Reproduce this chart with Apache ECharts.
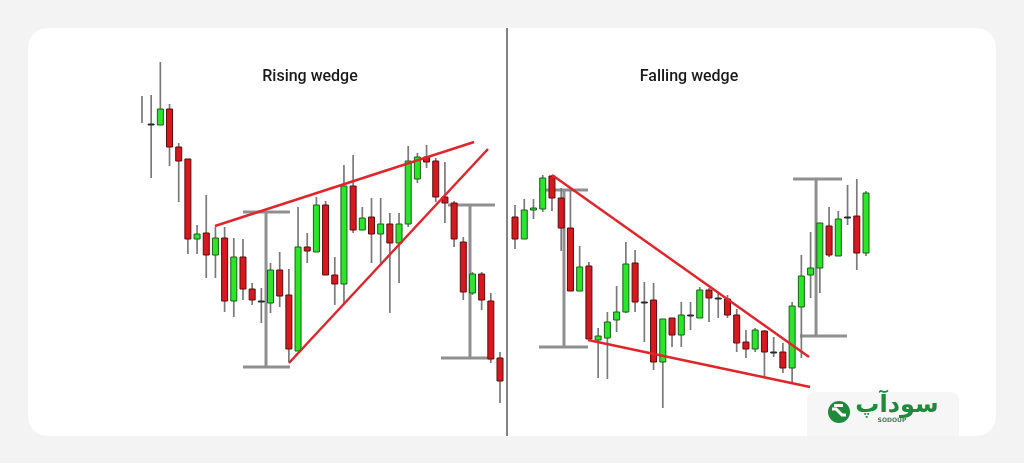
<!DOCTYPE html>
<html>
<head>
<meta charset="utf-8">
<script src="https://cdn.jsdelivr.net/npm/echarts@6/dist/echarts.min.js"></script>
<style>
html,body{margin:0;padding:0;background:#f3f3f3;}
#chart{width:1024px;height:463px;}
</style>
</head>
<body>
<div id="chart"></div>
<script>
// Candles: [open, close, low, high] (price units); null open/close = wick only
var leftCandles = [
  [null,null,312,339],[311,311,257,340],[310,326,310,373],[326,288,269,331],[288,274,233,292],
  [276,196,181,276],[196,201,181,210],[202,180,157,240],[180,197,157,208],[197,134,123,208],
  [134,178,118,197],[178,146,135,196],[146,135,130,152],[134,134,112,147],[132,165,122,172],
  [165,139,128,183],[140,86,73,166],[84,188,84,228],[188,184,172,202],[183,230,183,238],
  [230,160,160,234],[160,151,130,178],[151,249,132,270],[249,205,202,280],[205,217,205,228],
  [218,201,172,237],[201,211,172,237],[211,192,122,222],[192,211,152,222],[211,274,208,289],
  [256,278,252,282],[278,273,267,290],[274,238,233,277],[238,232,212,273],[232,196,188,234],
  [193,143,135,198],[142,161,140,163],[161,135,125,163],[134,76,72,142],[77,54,32,83]
];
var rightCandles = [
  [218,196,186,230],[196,225,196,236],[225,227,216,236],[226,257,223,260],[259,237,224,260],
  [237,207,184,247],[207,144,144,245],[144,168,144,189],[169,96,96,173],[95,99,57,107],
  [97,113,56,123],[115,123,103,149],[123,171,122,193],[172,133,123,185],[133,133,93,153],
  [135,73,65,152],[73,116,27,116],[117,100,88,117],[100,120,88,133],[120,120,105,133],
  [117,145,117,148],[145,137,113,147],[137,137,117,142],[136,120,117,140],[120,92,83,126],
  [93,86,77,105],[86,105,83,107],[104,83,57,105],[83,83,78,98],[83,67,62,92],
  [67,129,52,133],[128,159,77,180],[160,167,137,203],[167,212,142,212],[209,180,178,228],
  [179,216,179,224],[218,218,210,250],[219,182,165,256],[182,242,179,244]
];
// Trendlines and measuring lines: [[index, price], [index, price]]
var leftUpperLine = [[7.95,209],[36.17,293]];
var leftLowerLine = [[16.01,72],[37.69,286]];
var leftMeasureA = [[[13.51,223],[13.51,68]],[[11.0,223],[16.12,223]],[[11.0,68],[16.12,68]]];
var leftMeasureB = [[[35.73,230],[35.73,77]],[[33.33,230],[38.45,230]],[[32.57,77],[37.91,77]]];
var rightUpperLine = [[4.01,260],[31.83,78]];
var rightLowerLine = [[7.90,95],[31.94,48]];
var rightMeasureA = [[[5.30,245],[5.30,88]],[[2.60,245],[7.90,245]],[[2.60,88],[7.90,88]]];
var rightMeasureB = [[[32.59,256],[32.59,99]],[[30.10,256],[35.40,256]],[[30.85,99],[35.94,99]]];
var titles = ['Rising wedge', 'Falling wedge'];

var RED = '#d7191f', RED_B = '#5a0c0c', GREEN = '#2ae52a', GREEN_B = '#1b5e1b', DOJI = '#2b2b2b';
var WICK = '#7a7a7a', TREND = '#e0252b', MEASURE = '#8f8f8f';

function renderCandle(params, api) {
  var x = api.value(0), o = api.value(1), c = api.value(2), l = api.value(3), h = api.value(4);
  var pL = api.coord([x, l]), pH = api.coord([x, h]);
  var children = [
    {type: 'line', shape: {x1: pH[0], y1: pH[1], x2: pL[0], y2: pL[1]}, style: {stroke: WICK, lineWidth: 1.7}}
  ];
  if (!isNaN(o) && !isNaN(c)) {
    var pO = api.coord([x, o]), pC = api.coord([x, c]);
    var top = Math.min(pO[1], pC[1]), bot = Math.max(pO[1], pC[1]);
    var w = 6;
    var fill, stroke;
    if (c > o) { fill = GREEN; stroke = GREEN_B; }
    else if (c < o) { fill = RED; stroke = RED_B; }
    else { fill = DOJI; stroke = DOJI; }
    children.push({type: 'rect', shape: {x: pO[0] - w / 2, y: top, width: w, height: Math.max(bot - top, 1)}, style: {fill: fill, stroke: stroke, lineWidth: 1}});
  }
  return {type: 'group', children: children};
}

function candleSeries(arr, gi) {
  return {
    type: 'custom', xAxisIndex: gi, yAxisIndex: gi, clip: false,
    renderItem: renderCandle,
    encode: {x: 0, y: [3, 4]},
    data: arr.map(function (d, i) { return [i, d[0] == null ? '-' : d[0], d[1] == null ? '-' : d[1], d[2], d[3]]; }),
    z: 3
  };
}
function lineSeries(pts, gi, color, width, z) {
  return {
    type: 'line', xAxisIndex: gi, yAxisIndex: gi, data: pts, symbol: 'none', silent: true,
    lineStyle: {color: color, width: width}, clip: false, z: z, animation: false
  };
}

var series = [];
[leftMeasureA, leftMeasureB].forEach(function (m) { m.forEach(function (seg) { series.push(lineSeries(seg, 0, MEASURE, 3, 2)); }); });
[rightMeasureA, rightMeasureB].forEach(function (m) { m.forEach(function (seg) { series.push(lineSeries(seg, 1, MEASURE, 3, 2)); }); });
series.push(candleSeries(leftCandles, 0));
series.push(candleSeries(rightCandles, 1));
series.push(lineSeries(leftUpperLine, 0, TREND, 2.5, 5));
series.push(lineSeries(leftLowerLine, 0, TREND, 2.5, 5));
series.push(lineSeries(rightUpperLine, 1, TREND, 2.5, 5));
series.push(lineSeries(rightLowerLine, 1, TREND, 2.5, 5));

var chart = echarts.init(document.getElementById('chart'));
var hiddenAxis = {show: false, splitLine: {show: false}};
chart.setOption({
  animation: false,
  backgroundColor: 'transparent',
  grid: [
    {left: 137.4, width: 367.2, top: 28, height: 407},
    {left: 510.4, width: 360.24, top: 28, height: 407}
  ],
  xAxis: [
    Object.assign({type: 'value', gridIndex: 0, min: -0.5, max: leftCandles.length - 0.5}, hiddenAxis),
    Object.assign({type: 'value', gridIndex: 1, min: -0.5, max: rightCandles.length - 0.5}, hiddenAxis)
  ],
  yAxis: [
    Object.assign({type: 'value', gridIndex: 0, min: 0, max: 407}, hiddenAxis),
    Object.assign({type: 'value', gridIndex: 1, min: 0, max: 407}, hiddenAxis)
  ],
  graphic: [
    {type: 'rect', z: -10, shape: {x: 28, y: 28, width: 968, height: 408, r: 20}, style: {fill: '#ffffff'}},
    {type: 'line', z: 1, shape: {x1: 507, y1: 28, x2: 507, y2: 436}, style: {stroke: '#5a5a5a', lineWidth: 1.5}},
    {type: 'text', z: 10, x: 310, y: 77, style: {text: titles[0], font: '500 16px Roboto', fill: '#1a1a1a', align: 'center', verticalAlign: 'middle'}},
    {type: 'text', z: 10, x: 689, y: 77, style: {text: titles[1], font: '500 16px Roboto', fill: '#1a1a1a', align: 'center', verticalAlign: 'middle'}},
    {type: 'rect', z: 0, shape: {x: 807, y: 392, width: 152, height: 44, r: [8, 8, 0, 0]}, style: {fill: '#f6f6f6'}},
    {type: 'circle', z: 10, shape: {cx: 839, cy: 412, r: 11}, style: {fill: '#1f8a3b'}},
    {type: 'polyline', z: 11, shape: {points: [[832, 409], [836, 409], [842, 415], [846, 415]]}, style: {stroke: '#ffffff', lineWidth: 3, fill: null}},
    {type: 'rect', z: 11, shape: {x: 834, y: 404, width: 9, height: 3}, style: {fill: '#ffffff'}},
    {type: 'text', z: 10, x: 897, y: 406, style: {text: 'سودآپ', font: 'bold 24px "DejaVu Sans"', fill: '#1f8a3b', align: 'center', verticalAlign: 'middle'}},
    {type: 'text', z: 12, x: 892, y: 420, style: {text: 'SODOUP', font: 'bold 6px "DejaVu Sans"', fill: '#4c7a58', align: 'center', verticalAlign: 'middle'}}
  ],
  series: series
});
</script>
</body>
</html>
